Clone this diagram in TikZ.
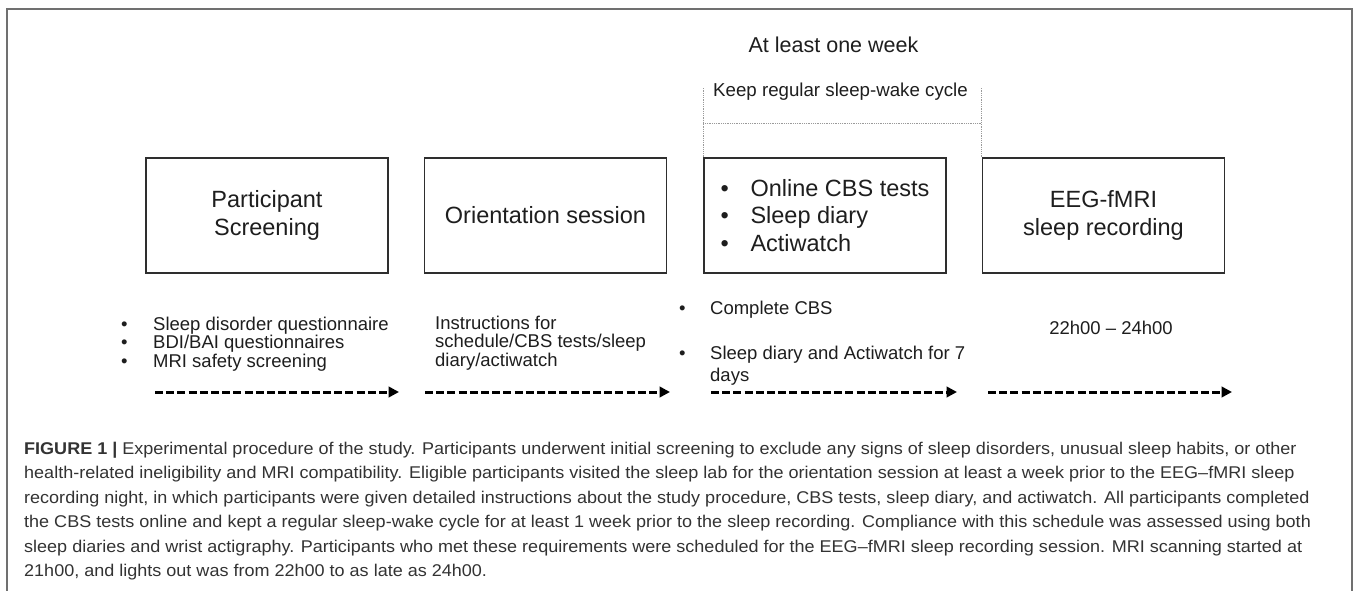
\documentclass[tikz,border=0pt]{standalone}
\usepackage{fontspec}
\setmainfont{Liberation Sans}
\newfontfamily\capfont{Liberation Sans}[FakeStretch=1.06]
\usetikzlibrary{arrows.meta}

\definecolor{framegray}{HTML}{707070}
\definecolor{boxline}{HTML}{2E2E2E}
\definecolor{txt}{HTML}{1E1E1E}
\definecolor{captxt}{HTML}{333333}
\definecolor{bracketgray}{HTML}{9A9A9A}

\newcommand{\bulA}{\makebox[30pt][l]{•}}
\newcommand{\bulB}{\makebox[32pt][l]{•}}

\begin{document}
\begin{tikzpicture}[x=1pt,y=-1pt,
  stage/.style={draw=boxline, line width=1.8pt, minimum width=242pt,
    minimum height=115pt, inner sep=0pt, align=center, text=txt,
    font=\fontsize{23.5}{28}\selectfont},
  note/.style={anchor=base west, inner sep=0pt, text=txt,
    font=\fontsize{18.5}{22}\selectfont},
  head/.style={inner sep=0pt, text=txt},
  capline/.style={anchor=base west, inner sep=0pt, text=captxt,
    font=\capfont\fontsize{17}{24.5}\selectfont},
  flow/.style={line width=3pt, dash pattern=on 8pt off 3.2pt,
    -{Triangle[length=10.5pt,width=10.5pt]}},
  span/.style={draw=bracketgray, line width=0.8pt, densely dotted},
  frameline/.style={draw=framegray, line width=1.6pt}
]
\useasboundingbox (0,0) rectangle (1357,591);
\fill[white] (0,0) rectangle (1357,591);

% outer frame, open at the bottom
\draw[frameline] (7,600) -- (7,9) -- (1352,9) -- (1352,600);

% the four stages
\node[stage] (b1) at (267,215.5) {Participant\\Screening};
\node[stage] (b2) at (545.5,215.5) {Orientation session};
\node[stage, align=left, font=\fontsize{23.5}{27.5}\selectfont] (b3) at (825,215.5)
  {\bulA Online CBS tests\\\bulA Sleep diary\\\bulA Actiwatch};
\node[stage] (b4) at (1103.5,215.5) {EEG-fMRI\\sleep recording};

% one-week span above the third stage
\coordinate (sl) at (b3.north west |- 0,88);
\coordinate (sr) at (b4.north west |- 0,88);
\coordinate (ml) at (b3.north west |- 0,123);
\coordinate (mr) at (b4.north west |- 0,123);
\draw[span] (b3.north west) -- (sl);
\draw[span] (b4.north west) -- (sr);
\draw[span] (ml) -- (mr);
\node[head, font=\fontsize{21.5}{26}\selectfont] (week) at (833.5,45) {At least one week};
\node[head, font=\fontsize{18.7}{22}\selectfont] (keep) at (840.5,92) {Keep regular sleep-wake cycle};

% details under each stage
\node[note] (n1a) at (121,330) {\bulB Sleep disorder questionnaire};
\node[note] (n1b) at (121,348.5) {\bulB BDI/BAI questionnaires};
\node[note] (n1c) at (121,367) {\bulB MRI safety screening};

\node[note] (n2a) at (435,329) {Instructions for};
\node[note] (n2b) at (435,347.5) {schedule/CBS tests/sleep};
\node[note] (n2c) at (435,366) {diary/actiwatch};

\node[note] (n3a) at (679,314) {\makebox[31pt][l]{•}Complete CBS};
\node[note] (n3b) at (679,359) {\makebox[31pt][l]{•}Sleep diary and Actiwatch for 7};
\node[note] (n3c) at (710,381) {days};

\node[note, anchor=base] (n4) at (1111,334) {22h00 – 24h00};

% timeline arrows
\coordinate (a1s) at (155,392); \coordinate (a1e) at (399,392);
\coordinate (a2s) at (425,392); \coordinate (a2e) at (670,392);
\coordinate (a3s) at (711,392); \coordinate (a3e) at (957,392);
\coordinate (a4s) at (988,392); \coordinate (a4e) at (1232,392);
\draw[flow] (a1s) -- (a1e);
\draw[flow] (a2s) -- (a2e);
\draw[flow] (a3s) -- (a3e);
\draw[flow] (a4s) -- (a4e);

% caption
\node[capline] (c1) at (24,454) {\textbf{FIGURE 1 |} Experimental procedure of the study. Participants underwent initial screening to exclude any signs of sleep disorders, unusual sleep habits, or other};
\node[capline] (c2) at (24,478.5) {health-related ineligibility and MRI compatibility. Eligible participants visited the sleep lab for the orientation session at least a week prior to the EEG–fMRI sleep};
\node[capline] (c3) at (24,503) {recording night, in which participants were given detailed instructions about the study procedure, CBS tests, sleep diary, and actiwatch. All participants completed};
\node[capline] (c4) at (24,527.5) {the CBS tests online and kept a regular sleep-wake cycle for at least 1 week prior to the sleep recording. Compliance with this schedule was assessed using both};
\node[capline] (c5) at (24,552) {sleep diaries and wrist actigraphy. Participants who met these requirements were scheduled for the EEG–fMRI sleep recording session. MRI scanning started at};
\node[capline] (c6) at (24,576.5) {21h00, and lights out was from 22h00 to as late as 24h00.};
\end{tikzpicture}
\end{document}
